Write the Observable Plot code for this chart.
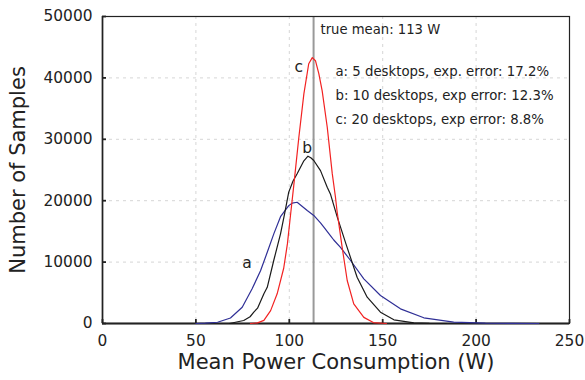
<!DOCTYPE html>
<html><head><meta charset="utf-8">
<script src="https://cdn.jsdelivr.net/npm/d3@7"></script>
<script src="https://cdn.jsdelivr.net/npm/@observablehq/plot@0.6"></script>
<style>
body{margin:0;background:#fff;}
svg{font-family:"DejaVu Sans",sans-serif;}
</style>
</head><body><div id="chart"></div>
<script>
// series a: 5 desktops
const wattsA  = [50,55,61.6,68.5,74.8,80.1,84.6,88.2,91.7,95.3,99.7,101.5,104.2,109.6,113.1,116.7,118.5,122,123.8,127.4,132.8,139.9,148.8,159.5,172,188,205,220,233.6];
const countsA = [0,50,200,900,2650,5650,8600,11600,14600,17400,19200,19600,19750,18400,17600,16400,15700,14300,13600,12400,10260,7280,4560,2390,930,210,50,20,0];
// series b: 10 desktops
const wattsB  = [68,75.6,79,81,83,86.4,88.2,91.7,95.3,97.5,99.7,102,104.2,107.8,110,111.5,113.1,116.7,120.3,122,125.6,130.5,136.3,141.7,148.8,156,166.7,175,184];
const countsB = [0,490,1100,1840,2500,4840,5900,10300,14600,17900,21400,23200,24400,26500,27250,27000,26550,24900,22200,21100,17400,12800,7540,4280,1840,600,100,20,0];
// series c: 20 desktops
const wattsC  = [79.2,83,86.4,90,93.5,97,99,100.6,102.4,105.1,107.8,110.4,112.3,114,115.8,117.6,120.3,123,124.7,125.6,128.3,131,134.5,139.9,145,152];
const countsC = [0,100,500,2100,4840,9000,13000,17500,22500,30300,37400,42300,43300,42800,40700,37900,32000,24400,20600,18200,12400,7000,3200,1000,150,0];

const xTicks = [0,50,100,150,200,250];
const yTicks = [0,10000,20000,30000,40000,50000];
const gridX = [50,100,150,200];
const gridY = [10000,20000,30000,40000];
const trueMean = 113;
const trueMeanText = "true mean: 113 W";
const trueMeanTextPos = [116.7, 47900];
const curveLabels = ["a","b","c"];
const curveLabelX = [77.4,109.6,105.1];
const curveLabelY = [9820,28500,41750];
const legendLines = ["a: 5 desktops, exp. error: 17.2%","b: 10 desktops, exp error: 12.3%","c: 20 desktops, exp error: 8.8%"];
const legendX = 124.7;
const legendY = [40940,37050,33140];
const xTitle = "Mean Power Consumption (W)";
const yTitle = "Number of Samples";

const toRows = (w,c) => w.map((x,i)=>({x, y:c[i]}));
const A = toRows(wattsA,countsA), B = toRows(wattsB,countsB), C = toRows(wattsC,countsC);
const labels = curveLabels.map((t,i)=>({t, x:curveLabelX[i], y:curveLabelY[i]}));
const legend = legendLines.map((t,i)=>({t, x:legendX, y:legendY[i]}));

const chart = Plot.plot({
  width: 585, height: 380,
  marginLeft: 102, marginRight: 16, marginTop: 16, marginBottom: 57,
  x: {domain:[0,250]},
  y: {domain:[0,50000]},
  style: {fontFamily:"DejaVu Sans", color:"#222", background:"#fff"},
  marks: [
    Plot.ruleX(gridX, {stroke:"#d6d6d6", strokeDasharray:"3,4", strokeWidth:1}),
    Plot.ruleY(gridY, {stroke:"#d6d6d6", strokeDasharray:"3,4", strokeWidth:1}),
    Plot.ruleX([trueMean], {stroke:"#999", strokeWidth:2}),
    Plot.frame({stroke:"#222", strokeWidth:1.2}),
    Plot.ruleY([0], {stroke:"#222", strokeWidth:1.8}),
    Plot.ruleX([0], {stroke:"#222", strokeWidth:1.6}),
    Plot.tickX(xTicks, {x:d=>d, insetTop:303, stroke:"#222", strokeWidth:1.8}),
    Plot.tickY(yTicks, {y:d=>d, insetRight:463, stroke:"#222", strokeWidth:1.8}),
    Plot.line(A, {x:"x", y:"y", stroke:"#2f2f96", strokeWidth:1.2}),
    Plot.line(B, {x:"x", y:"y", stroke:"#1a1a1a", strokeWidth:1.2}),
    Plot.line(C, {x:"x", y:"y", stroke:"#f22222", strokeWidth:1.2}),
    Plot.axisX(xTicks, {tickSize:0, tickPadding:12, fontSize:15.4, label:null, fill:"#222"}),
    Plot.axisY(yTicks, {tickSize:0, tickPadding:10, fontSize:15.4, label:null, fill:"#222", tickFormat:d=>String(d)}),
    Plot.text([xTitle], {frameAnchor:"bottom", dy:45, fontSize:21, fill:"#222"}),
    Plot.text([yTitle], {frameAnchor:"left", rotate:-90, textAnchor:"middle", dx:-84, fontSize:21, fill:"#222"}),
    Plot.text([trueMeanText], {x:()=>trueMeanTextPos[0], y:()=>trueMeanTextPos[1], textAnchor:"start", fontSize:13.2, fill:"#222"}),
    Plot.text(labels, {x:"x", y:"y", text:"t", fontSize:15.5, fill:"#222"}),
    Plot.text(legend, {x:"x", y:"y", text:"t", textAnchor:"start", fontSize:13.3, fill:"#222"})
  ]
});
document.getElementById("chart").appendChild(chart);
</script>
</body></html>
